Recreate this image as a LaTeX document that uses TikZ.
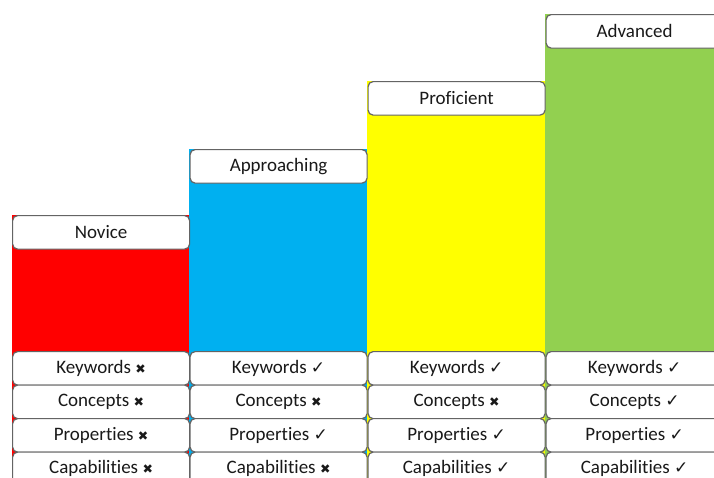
\documentclass[tikz,border=0pt]{standalone}
\usepackage{fontspec}
\setmainfont{Carlito}[Ligatures=NoCommon]
\newfontfamily\symfont{DejaVu Sans}
\definecolor{myRed}{RGB}{255, 0, 0}
\definecolor{myBlue}{RGB}{0, 176, 240}
\definecolor{myYellow}{RGB}{255, 255, 0}
\definecolor{myGreen}{RGB}{146, 208, 80}
\definecolor{myGrey}{RGB}{100, 100, 100}
\newcommand{\myTick}{{\symfont\fontsize{17}{17}\selectfont ✓}}
\newcommand{\myCross}{{\symfont\bfseries\fontsize{12.5}{12.5}\selectfont ✖}}

\begin{document}
\begin{tikzpicture}[x=1pt, y=-1pt,
		box/.style={draw=myGrey, line width=1.2pt, fill=white, rounded corners=5pt,
			minimum width=177pt, minimum height=33.5pt, inner sep=0pt, anchor=north west,
			text=black!90, font=\fontsize{19}{20}\selectfont}]
			\clip (0,0) rectangle (714,477);
			% the four levels, each one step higher
			\fill[myRed] (12,215) rectangle (189,490);
			\fill[myBlue] (189,149) rectangle (367,490);
			\fill[myYellow] (367,81) rectangle (545,490);
			\fill[myGreen] (545,14) rectangle (725,490);

			\node[box] (novice) at (12,215) {Novice};
			\node[box] (approaching) at (189.5,149) {Approaching};
			\node[box] (proficient) at (367.5,81) {Proficient};
			\node[box] (advanced) at (545.5,14) {Advanced};

			% what each level can do
			\node[box] (noviceKey) at (12,351) {Keywords \myCross};
			\node[box] (noviceCon) at (12,384.5) {Concepts \myCross};
			\node[box] (noviceProp) at (12,418) {Properties \myCross};
			\node[box] (noviceCap) at (12,451.5) {Capabilities \myCross};

			\node[box] (approachingKey) at (189.5,351) {Keywords \myTick};
			\node[box] (approachingCon) at (189.5,384.5) {Concepts \myCross};
			\node[box] (approachingProp) at (189.5,418) {Properties \myTick};
			\node[box] (approachingCap) at (189.5,451.5) {Capabilities \myCross};

			\node[box] (proficientKey) at (367.5,351) {Keywords \myTick};
			\node[box] (proficientCon) at (367.5,384.5) {Concepts \myCross};
			\node[box] (proficientProp) at (367.5,418) {Properties \myTick};
			\node[box] (proficientCap) at (367.5,451.5) {Capabilities \myTick};

			\node[box] (advancedKey) at (545.5,351) {Keywords \myTick};
			\node[box] (advancedCon) at (545.5,384.5) {Concepts \myTick};
			\node[box] (advancedProp) at (545.5,418) {Properties \myTick};
			\node[box] (advancedCap) at (545.5,451.5) {Capabilities \myTick};
		\end{tikzpicture}
\end{document}
